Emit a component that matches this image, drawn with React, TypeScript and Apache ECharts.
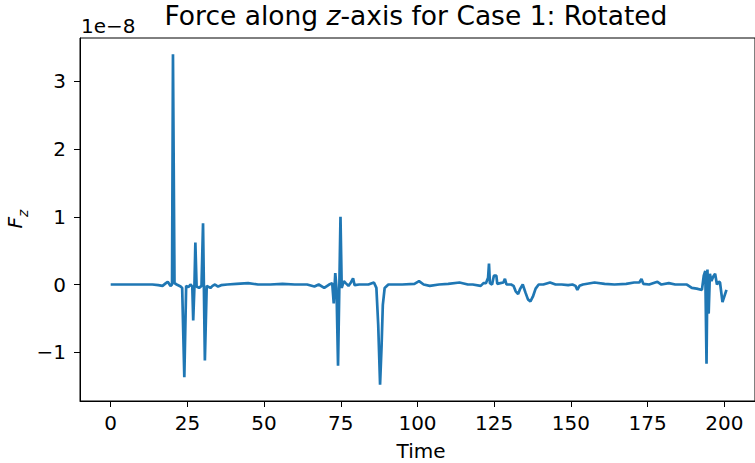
import React, { useEffect, useRef } from "react";
import * as echarts from "echarts";

// Time values and F_z values (in units of 1e-8)
const times: number[] = [
  0, 5, 10, 13.6, 15.5, 16.9, 18.0, 18.6, 19.5, 20.0, 20.3, 20.8, 21.5, 22.8, 23.3, 24.0, 24.6, 25.3, 26.0, 26.6,
  26.9, 27.3, 27.6, 28.0, 28.8, 29.6, 30.1, 30.7, 31.3, 32.5, 33.2, 34.0, 35.0, 36, 38, 41, 44.8, 48, 52, 56,
  60, 64, 66.4, 67.8, 69.6, 71.2, 72.2, 72.7, 73.2, 73.6, 74.1, 74.5, 74.9, 75.3, 76.0, 76.6, 77.5, 78.3, 79.0, 79.5,
  81, 84, 85.8, 86.6, 87.2, 87.8, 88.3, 88.7, 89.3, 90.5, 95, 99, 100.5, 102, 104, 107, 110, 113.7, 116.4, 118,
  120.6, 121.5, 122.3, 123.0, 123.3, 123.6, 124.3, 124.9, 125.7, 126.0, 127.0, 128.0, 128.5, 129.0, 130.5, 131.3, 132.0, 132.8, 133.5, 134.3,
  135.2, 136.0, 136.8, 137.6, 138.5, 139.5, 141, 143.2, 145, 147, 149.1, 150.5, 151.5, 152.1, 152.8, 153.9, 157.7, 161, 164.2, 168,
  170.6, 172.3, 173.0, 173.6, 175.5, 178.2, 179.5, 181.9, 184, 187.8, 189.4, 191.0, 192.7, 193.3, 193.8, 194.2, 194.5, 194.9, 195.3, 195.8,
  196.4, 197.0, 197.6, 198.2, 198.6, 199.4, 200.7,
];
const forceZ: number[] = [
  0, 0, 0, 0, -0.01, -0.02, 0.02, 0.04, -0.02, 0.0, 3.40, 0.02, 0.0, -0.03, -0.05, -1.37, -0.02, -0.04, 0.0, -0.03,
  -0.53, -0.02, 0.62, -0.03, -0.05, -0.02, 0.905, -1.12, -0.02, -0.05, -0.02, 0.0, -0.03, -0.01, 0.0, 0.01, 0.02, 0.0, 0.0, 0.01,
  0.0, 0.0, -0.03, 0.0, -0.05, 0.0, 0.02, -0.28, 0.17, -0.05, -1.2, -0.1, 1.0, -0.05, 0.05, 0.02, -0.02, 0.03, 0.09, -0.01,
  0.0, 0.0, 0.03, -0.05, -0.6, -1.48, -0.9, -0.3, -0.05, 0.0, 0.0, 0.01, 0.05, 0.0, -0.02, 0.0, 0.01, 0.03, 0.0, 0.0,
  -0.02, 0.02, 0.02, 0.1, 0.31, 0.02, 0.0, 0.13, 0.13, 0.01, 0.02, 0.03, 0.085, 0.0, 0.0, -0.02, -0.1, -0.14, -0.06, 0.0,
  -0.12, -0.22, -0.25, -0.18, -0.06, 0.0, 0.0, 0.03, 0.0, 0.0, -0.01, 0.0, -0.02, -0.08, -0.02, 0.0, 0.03, 0.01, 0.0, 0.01,
  0.03, 0.03, 0.08, 0.01, 0.0, 0.04, 0.0, 0.02, 0.0, 0.0, -0.05, -0.06, -0.08, 0.13, 0.2, -1.17, 0.22, -0.43, 0.16, 0.05,
  0.12, 0.16, 0.0, 0.04, 0.03, -0.26, -0.08,
];
const xTicks: number[] = [0, 25, 50, 75, 100, 125, 150, 175, 200];
const yTicks: number[] = [-1, 0, 1, 2, 3];

const FONT = "DejaVu Sans";
const TICK_FS = 20;
const TITLE_FS = 26.5;

export default function App() {
  const ref = useRef<HTMLDivElement>(null);
  useEffect(() => {
    if (!ref.current) return;
    const chart = echarts.init(ref.current, null, { renderer: "svg" });
    const data = times.map((t, i) => [t, forceZ[i]]);
    chart.setOption({
      animation: false,
      backgroundColor: "#ffffff",
      textStyle: { fontFamily: FONT },
      grid: {
        left: 80,
        top: 38,
        right: -7,
        bottom: 62,
        show: true,
        borderColor: "#000",
        borderWidth: 1,
        backgroundColor: "transparent",
        containLabel: false,
      },
      xAxis: {
        type: "value",
        min: -10,
        max: 210,
        axisLine: { show: true, onZero: false, lineStyle: { color: "#000", width: 1 } },
        axisTick: { show: true, length: 6, customValues: xTicks, lineStyle: { color: "#000" } },
        axisLabel: { customValues: xTicks, color: "#000", fontSize: TICK_FS, fontFamily: FONT, margin: 12 },
        splitLine: { show: false },
      },
      yAxis: {
        type: "value",
        min: -1.72,
        max: 3.64,
        axisLine: { show: true, onZero: false, lineStyle: { color: "#000", width: 1 } },
        axisTick: { show: true, length: 6, customValues: yTicks, lineStyle: { color: "#000" } },
        axisLabel: { customValues: yTicks, color: "#000", fontSize: TICK_FS, fontFamily: FONT, margin: 14,
          formatter: (v: number) => (v < 0 ? "\u2212" + Math.abs(v) : String(v)) },
        splitLine: { show: false },
      },
      series: [
        {
          type: "line",
          data,
          showSymbol: false,
          symbol: "none",
          lineStyle: { color: "#1f77b4", width: 2.7 },
          clip: true,
        },
      ],
      graphic: [
        {
          type: "text",
          x: 416,
          y: 15,
          style: {
            text: "Force along {i|z}-axis for Case 1: Rotated",
            fontSize: TITLE_FS,
            fontFamily: FONT,
            fill: "#000",
            align: "center",
            verticalAlign: "middle",
            rich: { i: { fontStyle: "italic", fontSize: TITLE_FS, fontFamily: FONT, fill: "#000" } },
          },
        },
        {
          type: "text",
          x: 81,
          y: 26,
          style: { text: "1e\u22128", fontSize: TICK_FS, fontFamily: FONT, fill: "#000", align: "left", verticalAlign: "middle" },
        },
        {
          type: "text",
          x: 421,
          y: 451,
          style: { text: "Time", fontSize: TICK_FS, fontFamily: FONT, fill: "#000", align: "center", verticalAlign: "middle" },
        },
        {
          type: "text",
          x: 17,
          y: 219,
          rotation: Math.PI / 2,
          style: {
            text: "{f|F}{s|z}",
            fill: "#000",
            align: "center",
            verticalAlign: "middle",
            rich: {
              f: { fontStyle: "italic", fontSize: 20, fontFamily: FONT, fill: "#000", verticalAlign: "top" },
              s: { fontStyle: "italic", fontSize: 14, fontFamily: FONT, fill: "#000", padding: [11, 0, 0, 0], verticalAlign: "bottom" },
            },
          },
        },
      ],
    });
    return () => chart.dispose();
  }, []);
  return (
    <div
      ref={ref}
      style={{ position: "fixed", left: 0, top: 0, width: 755, height: 463 }}
    />
  );
}
